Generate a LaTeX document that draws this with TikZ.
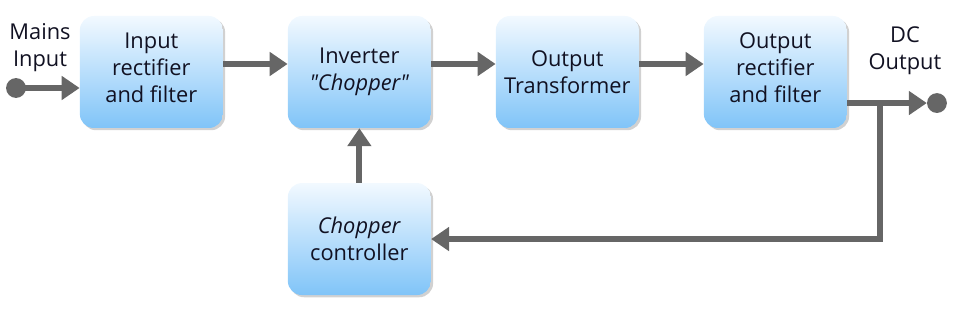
\documentclass[tikz,border=0pt]{standalone}
\usepackage{fontspec}
\setmainfont{Open Sans}
\usetikzlibrary{positioning,arrows.meta,shadows,calc}
\definecolor{fuenteAzulClaro}{HTML}{F2F9FF}
\definecolor{fuenteAzul}{HTML}{80C4F8}
\definecolor{fuenteGris}{HTML}{666666}
\definecolor{fuenteTexto}{HTML}{111122}
\tikzset{
  bloque/.style={rectangle, rounded corners=0.44cm, draw=none,
    top color=fuenteAzulClaro, bottom color=fuenteAzul,
    minimum width=4.47cm, minimum height=3.5cm, align=center,
    text=fuenteTexto, font=\fontsize{19.4}{24}\selectfont,
    drop shadow={shadow xshift=0.07cm, shadow yshift=-0.07cm, opacity=0.3, fill=black!60}},
  etiqueta/.style={align=center, text=fuenteTexto, font=\fontsize{19.4}{24}\selectfont},
  borne/.style={circle, fill=fuenteGris, minimum size=0.62cm, inner sep=0pt},
  flechaBloque/.style={-{Triangle[length=0.56cm, width=0.72cm]}, line width=0.19cm, fuenteGris},
  lineaBloque/.style={-, line width=0.19cm, fuenteGris},
}
\begin{document}
\begin{tikzpicture}
    \useasboundingbox (0,0) rectangle (30,-10);
    \node[bloque, text depth=0.25cm] (rect) at (4.73,-2.25)  {Input\\rectifier\\and filter};
    \node[bloque] (inv)  at (11.23,-2.25) {Inverter\\\textit{\textquotedbl Chopper\textquotedbl}};
    \node[bloque] (trafo) at (17.73,-2.25) {Output\\Transformer};
    \node[bloque, text depth=0.25cm] (rsal) at (24.23,-2.25) {Output\\rectifier\\and filter};
    \node[bloque] (ctrl) at (11.23,-7.47) {\textit{Chopper}\\controller};
    \node[etiqueta] (lentrada) at (1.25,-1.48) {Mains\\Input};
    \node[etiqueta] (lsalida) at (28.28,-1.57) {DC\\Output};
    \node[borne] (entrada) at (0.5,-2.75) {};
    \node[borne] (salida) at (29.28,-3.22) {};
    \coordinate (rama) at (27.5,-3.22);
    \draw[flechaBloque] (entrada.center) -- (rect.west |- entrada);
    \draw[flechaBloque] ($(rect.east)+(0,0.25)$) -- ($(inv.west)+(0,0.25)$);
    \draw[flechaBloque] ($(inv.east)+(0,0.25)$) -- ($(trafo.west)+(0,0.25)$);
    \draw[flechaBloque] ($(trafo.east)+(0,0.25)$) -- ($(rsal.west)+(0,0.25)$);
    \draw[flechaBloque] (rsal.east |- salida) -- (salida.west);
    \draw[flechaBloque] (rama) |- (ctrl.east);
    \draw[flechaBloque] (ctrl.north) -- (inv.south);
  \end{tikzpicture}
\end{document}
